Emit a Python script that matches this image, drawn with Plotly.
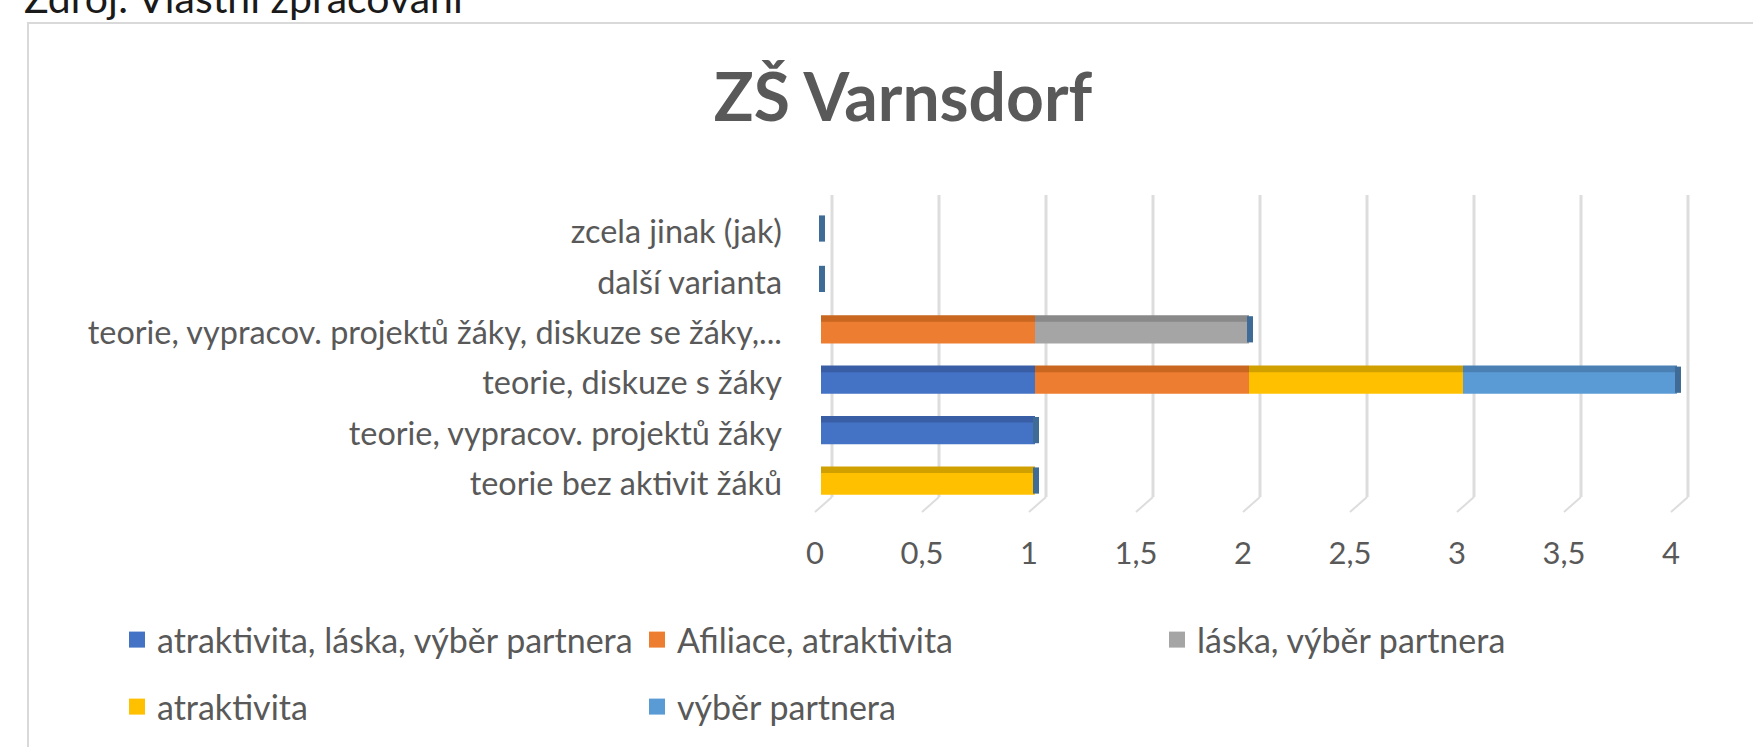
import numpy as np
import plotly.graph_objects as go

# ---------------- data ----------------
categories = [
    "teorie bez aktivit žáků",
    "teorie, vypracov. projektů žáky",
    "teorie, diskuze s žáky",
    "teorie, vypracov. projektů žáky, diskuze se žáky,...",
    "další varianta",
    "zcela jinak (jak)",
]
series_names = [
    "atraktivita, láska, výběr partnera",
    "Afiliace, atraktivita",
    "láska, výběr partnera",
    "atraktivita",
    "výběr partnera",
]
atraktivita_laska_vyber = [0, 1, 1, 0, 0, 0]
afiliace_atraktivita = [0, 0, 1, 1, 0, 0]
laska_vyber = [0, 0, 0, 1, 0, 0]
atraktivita = [1, 0, 1, 0, 0, 0]
vyber_partnera = [0, 0, 1, 0, 0, 0]
x_ticks = [0, 0.5, 1, 1.5, 2, 2.5, 3, 3.5, 4]
title_text = "ZŠ Varnsdorf"
source_text = "Zdroj: Vlastní zpracování"

series_values = [atraktivita_laska_vyber, afiliace_atraktivita, laska_vyber,
                 atraktivita, vyber_partnera]

# ---------------- style ----------------
front_colors = ["#4472C4", "#ED7D31", "#A5A5A5", "#FFC000", "#5B9BD5"]
face_colors = ["#3A5EA6", "#C9661F", "#898989", "#CFA000", "#4A80B3"]
cap_color = "#3F6B97"
text_grey = "#595959"
FONT = "Lato, sans-serif"

W, H = 1753, 747
L, R, T, B = 812, 1692, 195, 497
PX_PER_UNIT = 214.0
X0PX = 821
x_range = [(L - X0PX) / PX_PER_UNIT, (R - X0PX) / PX_PER_UNIT]
y_range = [-0.262, 5.73]


def px_to_paper_x(px):
    return (px - L) / (R - L)


def px_to_paper_y(py):
    return (B - py) / (B - T)


FRONT_W = 0.43
FACE_UP = 0.13

fig = go.Figure()

bases = np.zeros(len(categories))
base_list = []
for vals in series_values:
    base_list.append(bases.copy())
    bases = bases + np.array(vals, dtype=float)
totals = bases

# top faces (3D look) drawn first
for name, vals, base, col in zip(series_names, series_values, base_list, face_colors):
    fig.add_trace(go.Bar(
        y=categories, x=vals, base=base, orientation="h",
        marker=dict(color=col, line=dict(width=0)),
        width=FRONT_W, offset=-FRONT_W / 2 + FACE_UP,
        showlegend=False, hoverinfo="skip",
    ))

# front faces
for name, vals, base, col in zip(series_names, series_values, base_list, front_colors):
    fig.add_trace(go.Bar(
        y=categories, x=vals, base=base, orientation="h", name=name,
        marker=dict(color=col, line=dict(width=0)),
        width=FRONT_W, offset=-FRONT_W / 2, showlegend=False,
    ))

# legend entries (square keys)
for i, (name, col) in enumerate(zip(series_names, front_colors)):
    fig.add_trace(go.Scatter(
        x=[None], y=[None], mode="markers", name=name,
        marker=dict(symbol="square", size=16, color=col),
        legend="legend" if i < 3 else "legend2", hoverinfo="skip",
    ))

shapes = []
# chart frame
shapes.append(dict(type="rect", xref="paper", yref="paper",
                   x0=px_to_paper_x(28), x1=px_to_paper_x(2200),
                   y0=px_to_paper_y(23), y1=px_to_paper_y(1000),
                   line=dict(color="#D9D9D9", width=2), fillcolor="rgba(0,0,0,0)",
                   layer="below"))
# gridlines (3D back wall offset) and floor diagonals
for v in x_ticks:
    shapes.append(dict(type="line", xref="x", xsizemode="pixel", xanchor=v, x0=11, x1=11,
                       yref="paper", y0=0, y1=1,
                       line=dict(color="#DDDDDD", width=3), layer="below"))
    shapes.append(dict(type="line", xref="x", xsizemode="pixel", xanchor=v, x0=11, x1=-6,
                       yref="paper", ysizemode="pixel", yanchor=0, y0=0, y1=-15,
                       line=dict(color="#DDDDDD", width=2), layer="below"))
# side caps at stack ends
for i, tot in enumerate(totals):
    shapes.append(dict(type="rect", xref="x", xsizemode="pixel", xanchor=float(tot),
                       x0=-2, x1=4, yref="y",
                       y0=i - FRONT_W / 2 + 0.02, y1=i + FRONT_W / 2 + FACE_UP - 0.02,
                       fillcolor=cap_color, line=dict(width=0), layer="above"))

LEG_X = 117
fig.update_layout(
    width=W, height=H,
    margin=dict(l=L, r=W - R, t=T, b=H - B, pad=0, autoexpand=False),
    paper_bgcolor="white", plot_bgcolor="white",
    barmode="overlay",
    separators=", ",
    font=dict(family=FONT, color=text_grey, size=30),
    title=dict(text="<b>" + title_text + "</b>", x=903 / W, xanchor="center",
               y=1 - 98 / H, yanchor="middle", yref="container",
               font=dict(family=FONT, size=66, color=text_grey)),
    xaxis=dict(range=x_range, tickvals=x_ticks, showgrid=False, zeroline=False,
               showline=False, ticks="", ticklabelshift=-6, ticklabelstandoff=35,
               tickfont=dict(size=31, color=text_grey), fixedrange=True,
               automargin=False),
    yaxis=dict(type="category", categoryorder="array", categoryarray=categories,
               range=y_range, showgrid=False, zeroline=False, showline=False,
               ticks="", ticklabelstandoff=29,
               tickfont=dict(size=32.4, color=text_grey), fixedrange=True,
               automargin=False),
    legend=dict(orientation="h", x=px_to_paper_x(LEG_X), xanchor="left",
                y=px_to_paper_y(640), yanchor="middle", traceorder="normal",
                entrywidth=475, entrywidthmode="pixels", itemsizing="trace",
                font=dict(size=34, color=text_grey), bgcolor="rgba(0,0,0,0)"),
    legend2=dict(orientation="h", x=px_to_paper_x(LEG_X), xanchor="left",
                 y=px_to_paper_y(707), yanchor="middle", traceorder="normal",
                 entrywidth=475, entrywidthmode="pixels", itemsizing="trace",
                 font=dict(size=34, color=text_grey), bgcolor="rgba(0,0,0,0)"),
    shapes=shapes,
    annotations=[dict(text=source_text, xref="paper", yref="paper",
                      x=px_to_paper_x(22), xanchor="left",
                      y=px_to_paper_y(-3), yanchor="middle", showarrow=False,
                      font=dict(family=FONT, size=41, color="#1A1A1A"))],
)

fig.write_html("out.html", config={"displayModeBar": False},
               post_script="document.body.style.margin='0';")
